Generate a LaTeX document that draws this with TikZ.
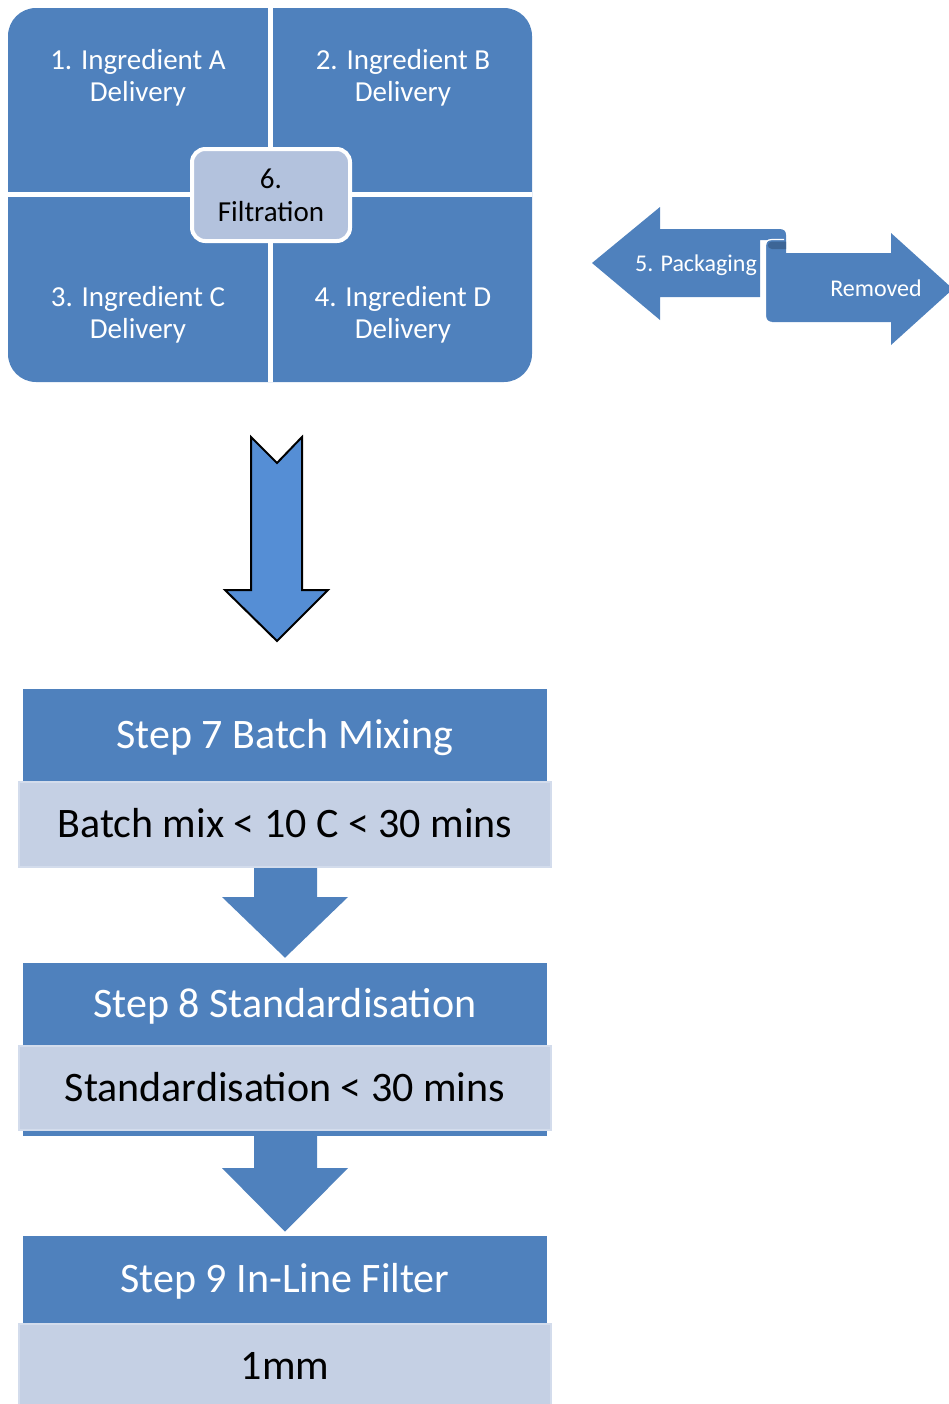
\documentclass[tikz,border=0pt]{standalone}
\usepackage{fontspec}
\setmainfont{Carlito}
\usetikzlibrary{calc}
\definecolor{accent}{HTML}{4F81BD}
\definecolor{scrolldark}{HTML}{3D6596}
\definecolor{bigblue}{HTML}{558ED5}
\definecolor{filtfill}{HTML}{B3C2DD}
\definecolor{detailfill}{HTML}{C5D0E4}
\definecolor{detailedge}{HTML}{D3DCEC}
\tikzset{
  qtext/.style={text=white, align=center, inner sep=0pt, font=\fontsize{21.75}{24}\selectfont},
  filtbox/.style={fill=filtfill, draw=white, line width=3pt, rounded corners=10pt,
    minimum width=118.5pt, minimum height=69pt, inner sep=0pt, align=center,
    font=\fontsize{21.75}{24.75}\selectfont},
  ribbontext/.style={text=white, inner sep=0pt, font=\fontsize{18}{21}\selectfont},
  title/.style={fill=accent, text=white, inner sep=0pt, minimum width=393pt,
    text height=20.2pt, text depth=0pt, font=\fontsize{31.5}{36}\selectfont},
  detail/.style={fill=detailfill, draw=detailedge, line width=1.5pt, inner sep=0pt,
    minimum width=399pt, text=black, text height=20.2pt, text depth=0pt,
    font=\fontsize{31.5}{36}\selectfont},
  flowarrow/.style={fill=accent}
}
\begin{document}
\begin{tikzpicture}[x=0.75pt,y=-0.75pt]
\useasboundingbox (0,0) rectangle (949,1404);

% ---- ingredient matrix ----
\fill[accent, rounded corners=21pt] (8,8) rectangle (532,382);
\fill[white] (268,8) rectangle (273,382);
\fill[white] (8,192) rectangle (532,197);
\node[qtext] (qa) at (138,78) {1. Ingredient A\\Delivery};
\node[qtext] (qb) at (403,78) {2. Ingredient B\\Delivery};
\node[qtext] (qc) at (138,315) {3. Ingredient C\\Delivery};
\node[qtext] (qd) at (403,315) {4. Ingredient D\\Delivery};
\node[filtbox] (filt) at (271,195) {6.\\Filtration};

% ---- packaging ribbon arrows ----
\fill[accent] (592,263) -- (660,207) -- (660,229) -- (779,229)
  .. controls (784,229) and (786,231) .. (786,235) -- (786,240) -- (760,240)
  -- (760,297) -- (660,297) -- (660,320) -- cycle;
\fill[accent] (766,316) -- (766,246) .. controls (766,242) and (768,240) .. (772,240)
  -- (786,240) -- (786,253) -- (891,253) -- (891,233) -- (953,289) -- (891,345)
  -- (891,322) -- (772,322) .. controls (768,322) and (766,320) .. (766,316) -- cycle;
\fill[scrolldark] (786,241.5) -- (772,241.5) .. controls (766.5,241.5) and (766.5,249) .. (772,249)
  -- (786,249) -- cycle;
\draw[white, line width=0.9pt] (784,239.5) -- (772,239.5)
  .. controls (767,239.5) and (765.5,242) .. (765.5,246) -- (765.5,316)
  .. controls (765.5,320) and (768,322.5) .. (772,322.5);
\node[ribbontext] (pack) at (696,265) {5. Packaging};
\node[ribbontext] (removed) at (876,288) {Removed};

% ---- transfer arrow ----
\filldraw[fill=bigblue, draw=black, line width=1.5pt, line join=miter]
  (251,437) -- (277,463) -- (302,437) -- (302,590) -- (328,590)
  -- (277,641) -- (225,590) -- (251,590) -- cycle;

% ---- process steps ----
\node[title, minimum height=69pt] (t7) at (285,735) {Step 7 Batch Mixing};
\node[detail, minimum height=63.75pt] (d7) at (285,824.5) {Batch mix < 10 C < 30 mins};

\node[title, minimum height=61.5pt] (t8) at (285,1004) {Step 8 Standardisation};
\fill[accent] (23,1045) rectangle (547,1136);
\coordinate (s8) at (285,1136);
\node[detail, minimum height=63pt] (d8) at (285,1088) {Standardisation < 30 mins};

\node[title, minimum height=65.25pt] (t9) at (285,1279.5) {Step 9 In-Line Filter};
\node[detail, minimum height=63.75pt] (d9) at (285,1366.5) {1mm};

\fill[flowarrow] ($(d7.south)+(-31,0)$) -- ++(63,0) -- ++(0,29) -- ++(31,0)
  -- ($(t8.north)+(0,-5)$) -- ($(d7.south)+(-63,29)$) -- ++(32,0) -- cycle;
\fill[flowarrow] ($(s8)+(-31,0)$) -- ++(63,0) -- ++(0,32) -- ++(31,0)
  -- ($(t9.north)+(0,-4)$) -- ($(s8)+(-63,32)$) -- ++(32,0) -- cycle;
\end{tikzpicture}
\end{document}
